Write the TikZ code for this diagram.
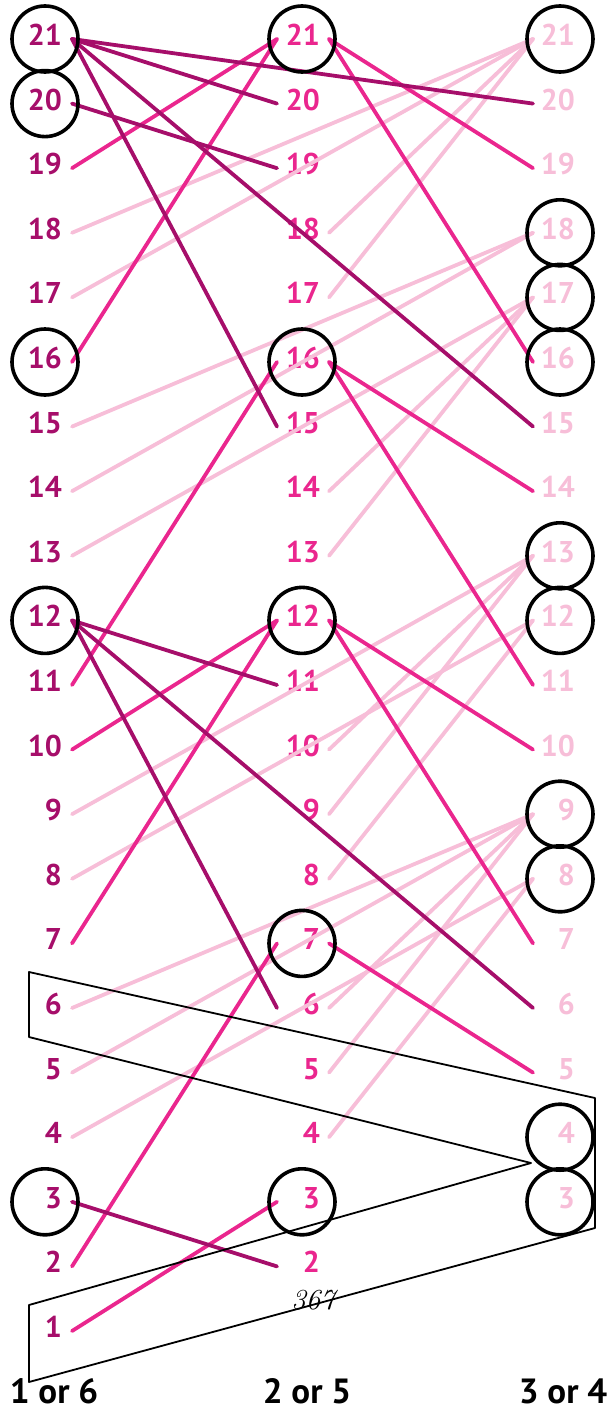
\documentclass[tikz,border=0pt]{standalone}
\usepackage{fontspec}
\newfontfamily\hand{PT Sans}
\definecolor{cA}{RGB}{166,14,106}
\definecolor{cB}{RGB}{234,38,142}
\definecolor{cC}{RGB}{247,190,216}
\tikzset{
  numA/.style={font=\hand\bfseries\fontsize{30}{30}\selectfont, text=cA, inner sep=0pt, anchor=base east},
  numB/.style={font=\hand\bfseries\fontsize{30}{30}\selectfont, text=cB, inner sep=0pt, anchor=base east},
  numC/.style={font=\hand\bfseries\fontsize{30}{30}\selectfont, text=cC, inner sep=0pt, anchor=base east},
  ring/.style={circle, draw=black, line width=3.6pt, minimum size=66pt, inner sep=0pt},
  lnA/.style={draw=cA, line width=3.8pt, line cap=round},
  lnB/.style={draw=cB, line width=3.8pt, line cap=round},
  lnC/.style={draw=cC, line width=3.8pt, line cap=round},
  poly/.style={draw=black, line width=1.8pt, line join=round},
  foot/.style={font=\hand\bfseries\fontsize{35}{35}\selectfont, text=black, inner sep=0pt, anchor=base}
}
\begin{document}
\begin{tikzpicture}[x=1pt,y=-1pt]
\useasboundingbox (0,0) rectangle (607,1413);
% labels and anchor coordinates
\foreach \n in {1,...,21} {
  \pgfmathsetmacro\yy{35+(21-\n)*64.6}
  \node[numA] (a\n) at (62,{\yy+10.5}) {\n};
  \coordinate (aR\n) at (72,{\yy+4});
}
\foreach \n in {2,...,21} {
  \pgfmathsetmacro\yy{35+(21-\n)*64.6}
  \node[numB] (b\n) at (320,{\yy+10.5}) {\n};
  \coordinate (bL\n) at (277,{\yy+4});
  \coordinate (bR\n) at (329,{\yy+4});
}
\foreach \n in {3,...,21} {
  \pgfmathsetmacro\yy{35+(21-\n)*64.6}
  \node[numC] (c\n) at (575,{\yy+10.5}) {\n};
  \coordinate (cL\n) at (533,{\yy+4});
}
% light connectors
\foreach \s/\t in {cL21/aR18, cL21/aR17, cL21/bR18, cL21/bR17,
  cL18/aR15, cL18/aR14, cL17/aR13, cL17/bR14, cL17/bR13,
  cL13/aR9, cL13/bR10, cL13/bR9, cL12/aR8, cL12/bR8,
  cL9/aR6, cL9/aR5, cL9/bR6, cL9/bR5, cL8/aR4, cL8/bR4}
  \draw[lnC] (\s) -- (\t);
% pink connectors
\foreach \s/\t in {bL21/aR19, bL21/aR16, bR21/cL19, bR21/cL16,
  bL16/aR11, bR16/cL14, bR16/cL11, bL12/aR10, bL12/aR7,
  bR12/cL10, bR12/cL7, bL7/aR2, bR7/cL5, bL3/aR1}
  \draw[lnB] (\s) -- (\t);
% dark connectors
\foreach \s/\t in {aR21/bL20, aR21/cL20, aR21/bL15, aR21/cL15, aR20/bL19,
  aR12/bL11, aR12/bL6, aR12/cL6, aR3/bL2}
  \draw[lnA] (\s) -- (\t);
% circles
\foreach \n in {21,20,16,12,3} {
  \pgfmathsetmacro\yy{35+(21-\n)*64.6}
  \node[ring] (oa\n) at (45,{\yy+4}) {};
}
\foreach \n in {21,16,12,7,3} {
  \pgfmathsetmacro\yy{35+(21-\n)*64.6}
  \node[ring] (ob\n) at (302,{\yy+4}) {};
}
\foreach \n in {21,18,17,16,13,12,9,8,4,3} {
  \pgfmathsetmacro\yy{35+(21-\n)*64.6}
  \node[ring] (oc\n) at (560,{\yy+4}) {};
}
% polygon
\draw[poly] (29,972) -- (595,1098) -- (595,1228) -- (29,1382) -- (29,1305) -- (531,1163) -- (29,1037) -- cycle;
% page number
\node[font=\itshape\fontsize{29}{29}\selectfont, inner sep=0pt] (pg) at (313,1300) {367};
% column captions
\node[foot] (f1) at (54,1403) {1 or 6};
\node[foot] (f2) at (307,1403) {2 or 5};
\node[foot] (f3) at (563,1403) {3 or 4};
\end{tikzpicture}
\end{document}
